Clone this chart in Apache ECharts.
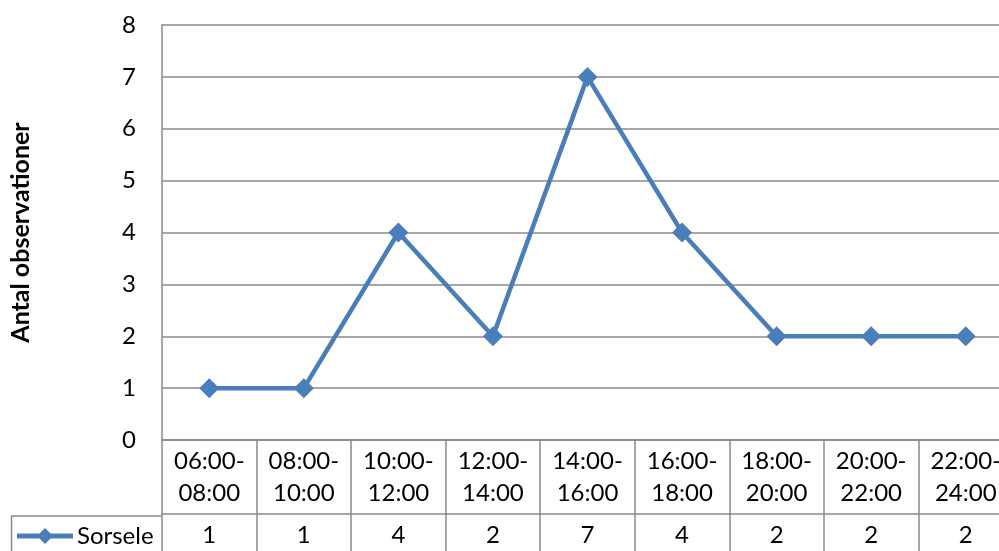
<!DOCTYPE html>
<html>
<head>
<meta charset="utf-8">
<script src="https://cdn.jsdelivr.net/npm/echarts@6/dist/echarts.min.js"></script>
<style>
  html, body { margin: 0; padding: 0; background: #fff; overflow: hidden; }
  /* the plot runs slightly past the right edge of the window */
  #chart { width: 1013px; height: 551px; }
</style>
</head>
<body>
<div id="chart"></div>
<script>
// Observations per two-hour interval
const categories = ['06:00-\n08:00', '08:00-\n10:00', '10:00-\n12:00', '12:00-\n14:00',
  '14:00-\n16:00', '16:00-\n18:00', '18:00-\n20:00', '20:00-\n22:00', '22:00-\n24:00'];
const seriesName = 'Sorsele';
const sorsele = [1, 1, 4, 2, 7, 4, 2, 2, 2];
const yTicks = { min: 0, max: 8, interval: 1 };
const yTitle = 'Antal observationer';

const FONT = 'Lato, "Open Sans", sans-serif';
const GRID_COLOR = '#8a8a8a';
const LINE_COLOR = '#4a7ebb';
const LABEL_SIZE = 24;

// legend key: thick line with a diamond in the middle
const LEGEND_ICON = 'path://M0,5.5 L56,5.5 L56,10.5 L0,10.5 Z M20,8 L28,0 L36,8 L28,16 Z';

const chart = echarts.init(document.getElementById('chart'), null, { renderer: 'canvas' });

chart.setOption({
  animation: false,
  backgroundColor: '#ffffff',
  textStyle: { fontFamily: FONT },
  grid: { left: 162, top: 25, bottom: 109, right: 0, containLabel: false },
  legend: {
    show: true,
    left: 17,
    top: 524,
    padding: 0,
    itemWidth: 56,
    itemHeight: 16,
    itemGap: 6,
    data: [{ name: seriesName, icon: LEGEND_ICON }],
    textStyle: { fontFamily: FONT, fontSize: LABEL_SIZE, color: '#000', padding: [0, 0, 0, -1] }
  },
  xAxis: [
    {
      // category labels forming the header row of the data table
      type: 'category',
      data: categories,
      boundaryGap: true,
      position: 'bottom',
      axisLine: { show: true, lineStyle: { color: GRID_COLOR, width: 1.5 } },
      axisTick: { show: true, interval: 0, length: 115, lineStyle: { color: GRID_COLOR, width: 1.5 } },
      axisLabel: {
        interval: 0, margin: 5, fontFamily: FONT, fontSize: LABEL_SIZE, lineHeight: 32, color: '#000'
      },
      splitLine: { show: false }
    },
    {
      // value row of the data table
      type: 'category',
      data: sorsele.map(String),
      boundaryGap: true,
      position: 'bottom',
      offset: 74,
      axisLine: { show: true, lineStyle: { color: GRID_COLOR, width: 1.5 } },
      axisTick: { show: false },
      axisLabel: {
        interval: 0, margin: 5, fontFamily: FONT, fontSize: LABEL_SIZE, lineHeight: 32, color: '#000'
      },
      splitLine: { show: false }
    }
  ],
  yAxis: {
    type: 'value',
    min: yTicks.min,
    max: yTicks.max,
    interval: yTicks.interval,
    name: yTitle,
    nameLocation: 'middle',
    nameGap: 129,
    nameRotate: 90,
    nameTextStyle: { fontFamily: FONT, fontSize: 25, fontWeight: 'bold', color: '#000' },
    axisLine: { show: true, lineStyle: { color: GRID_COLOR, width: 1.5 } },
    axisTick: { show: false },
    axisLabel: { margin: 26, fontFamily: FONT, fontSize: LABEL_SIZE, color: '#000' },
    splitLine: { show: true, lineStyle: { color: GRID_COLOR, width: 1.5 } }
  },
  graphic: [
    {
      // border of the legend cell in the data table
      type: 'polyline',
      silent: true,
      shape: { points: [[11.5, 560], [11.5, 516], [162, 516]] },
      style: { stroke: GRID_COLOR, lineWidth: 1.5, fill: null }
    }
  ],
  series: [
    {
      name: seriesName,
      type: 'line',
      xAxisIndex: 0,
      data: sorsele,
      symbol: 'diamond',
      symbolSize: 20,
      showAllSymbol: true,
      lineStyle: { color: LINE_COLOR, width: 4.5 },
      itemStyle: { color: LINE_COLOR },
      label: { show: false }
    }
  ]
});
</script>
</body>
</html>
